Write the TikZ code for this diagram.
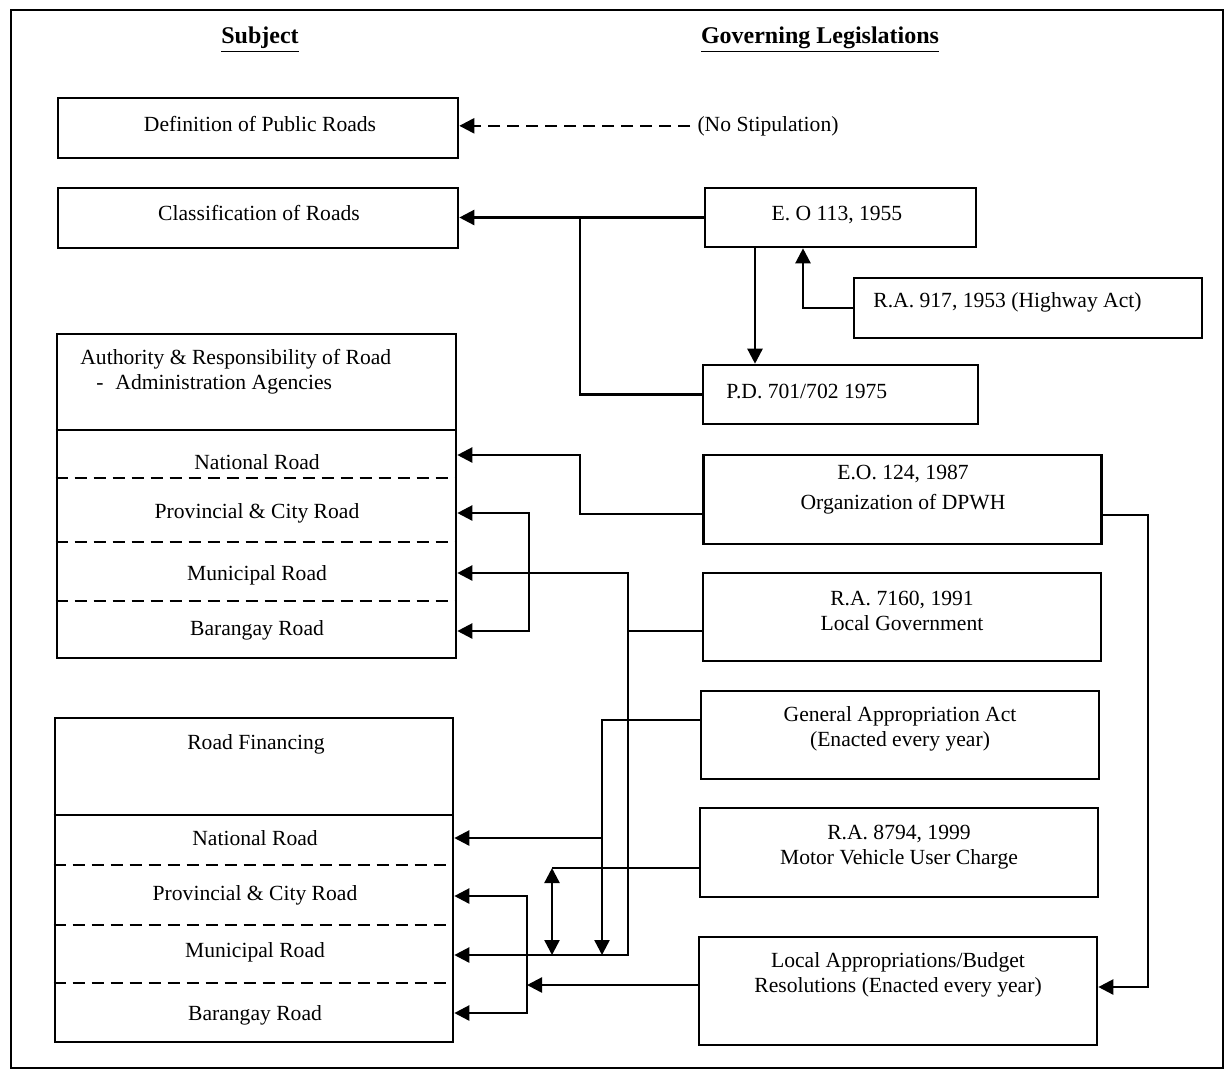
\documentclass[tikz,border=0pt]{standalone}
\usepackage{fontspec}
\setmainfont{Liberation Serif}
\usetikzlibrary{arrows.meta,positioning}
\tikzset{
  subj/.style={draw, line width=1.3pt, inner sep=0pt, minimum width=200pt, minimum height=30pt},
  law/.style={draw, line width=1.3pt, inner sep=0pt, minimum width=199pt, minimum height=44pt},
  lbl/.style={inner sep=0pt, anchor=base},
  txt/.style={inner sep=0pt, align=center},
  head/.style={inner sep=0pt, anchor=base, font=\fontsize{12pt}{14pt}\selectfont\bfseries},
  lnk/.style={line width=1.2pt},
  arr/.style={-{Triangle[length=7.5pt,width=7.5pt]}, line width=1.2pt},
  twoarr/.style={{Triangle[length=7.5pt,width=7.5pt]}-{Triangle[length=7.5pt,width=7.5pt]}, line width=1.2pt},
  divdash/.style={dash pattern=on 6pt off 3.5pt, line width=1pt},
}
\begin{document}
\begin{tikzpicture}[x=0.5pt,y=-0.5pt,font=\fontsize{10.8pt}{12.5pt}\selectfont]
  \useasboundingbox (0,0) rectangle (1229,1073);
  \draw[line width=1pt] (11,10) rectangle (1223,1068);
  % column heads
  \node[head] (hsubj) at (260,43) {\underline{Subject}};
  \node[head] (hgov) at (820,43) {\underline{Governing Legislations}};

  % subject side
  \node[subj] (defn) at (258,128) {};
  \node[lbl] (defnT) at (260,131) {Definition of Public Roads};
  \node[subj] (classif) at (258,218) {};
  \node[lbl] (classifT) at (259,220) {Classification of Roads};
  \node[subj, minimum width=199.5pt, minimum height=162pt] (auth) at (256.5,496) {};
  \node[txt, align=left, anchor=west] (authT) at (80,372)
    {Authority \& Responsibility of Road\\\hspace*{8pt}-\hspace{0.55em}Administration Agencies};
  \draw[lnk] (auth.west |- 0,430) -- (auth.east |- 0,430);
  \foreach \yy in {478,542,601} \draw[divdash] (auth.west |- 0,\yy) -- (auth.east |- 0,\yy);
  \node[lbl] (aNat) at (257,469) {National Road};
  \node[lbl] (aProv) at (257,518) {Provincial \& City Road};
  \node[lbl] (aMun) at (257,580) {Municipal Road};
  \node[lbl] (aBar) at (257,635) {Barangay Road};
  \node[subj, minimum width=199pt, minimum height=162pt] (fin) at (254,880) {};
  \node[lbl] (finT) at (256,749) {Road Financing};
  \draw[lnk] (fin.west |- 0,815) -- (fin.east |- 0,815);
  \foreach \yy in {865,925,983} \draw[divdash] (fin.west |- 0,\yy) -- (fin.east |- 0,\yy);
  \node[lbl] (fNat) at (255,845) {National Road};
  \node[lbl] (fProv) at (255,900) {Provincial \& City Road};
  \node[lbl] (fMun) at (255,957) {Municipal Road};
  \node[lbl] (fBar) at (255,1020) {Barangay Road};

  % legislation side
  \node[lbl] (nostip) at (768,131) {(No Stipulation)};
  \node[law, minimum width=135.5pt, minimum height=29.5pt] (eo113) at (840.5,217.5) {};
  \node[lbl] (eo113T) at (837,220) {E. O 113, 1955};
  \node[law, minimum width=174pt, minimum height=30pt] (ra917) at (1028,308) {};
  \node[lbl, anchor=base west] (ra917T) at (873,307) {R.A. 917, 1953 (Highway Act)};
  \node[law, minimum width=137.5pt, minimum height=29.5pt] (pd) at (840.5,394.5) {};
  \node[lbl, anchor=base west] (pdT) at (726,398) {P.D. 701/702 1975};
  \node[law, minimum height=44.5pt] (eo124) at (902.5,499.5) {};
  \node[txt] (eo124T) at (903,490) {E.O. 124, 1987\\[2.5pt]Organization of DPWH};
  \node[law] (ra7160) at (902,617) {};
  \node[txt] (ra7160T) at (902,611) {R.A. 7160, 1991\\Local Government};
  \node[law] (gaa) at (900,735) {};
  \node[txt] (gaaT) at (900,729) {General Appropriation Act\\(Enacted every year)};
  \node[law, minimum height=44.5pt] (ra8794) at (899,852.5) {};
  \node[txt] (ra8794T) at (899,847) {R.A. 8794, 1999\\Motor Vehicle User Charge};
  \node[law, minimum height=54pt] (lab) at (898,991) {};
  \node[txt] (labT) at (898,975) {Local Appropriations/Budget\\Resolutions (Enacted every year)};

  % connectors
  \draw[arr, divdash, line width=1.2pt, shorten <=3.5pt] (nostip.west) -- (defn.east |- nostip.west);
  \draw[arr] (eo113.west) -- (classif.east |- eo113.west);
  \draw[lnk] (580,217.5) |- (pd.west);
  \draw[arr] (eo113.south -| 755,0) -- (pd.north -| 755,0);
  \draw[arr] (ra917.west) -| (eo113.south -| 803,0);
  \draw[arr] (eo124.west |- 0,514) -| (580,455) -- (auth.east |- 0,455);
  \draw[twoarr] (auth.east |- 0,513) -| (529,631) -- (auth.east |- 0,631);
  \draw[lnk] (ra7160.west |- 0,631) -- (628,631);
  \draw[twoarr] (auth.east |- 0,573) -| (628,955) -- (fin.east |- 0,955);
  \draw[arr] (gaa.west |- 0,720) -| (602,955);
  \draw[arr] (602,838) -- (fin.east |- 0,838);
  \draw[lnk] (ra8794.west |- 0,868) -- (552,868);
  \draw[twoarr] (552,868) -- (552,955);
  \draw[arr] (lab.west |- 0,985) -- (527,985);
  \draw[twoarr] (fin.east |- 0,896) -| (527,1013) -- (fin.east |- 0,1013);
  \draw[arr] (eo124.east |- 0,515) -| (1148,987) -- (lab.east |- 0,987);
\end{tikzpicture}
\end{document}
